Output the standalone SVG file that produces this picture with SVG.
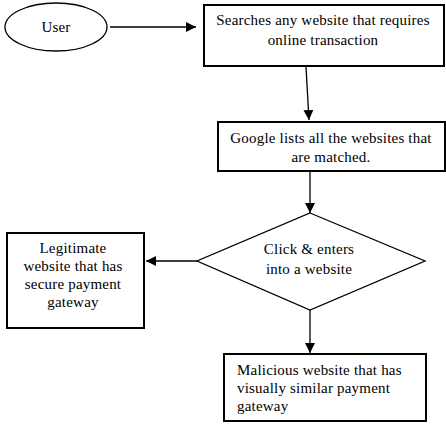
<svg xmlns="http://www.w3.org/2000/svg" width="446" height="426" viewBox="0 0 446 426">
<style>
.n{fill:#fff;stroke:#000;stroke-width:2}
.d{fill:#fff;stroke:#000;stroke-width:1.3}
text{font-family:'Liberation Serif','Times New Roman','DejaVu Serif',serif;font-size:15px;letter-spacing:0.2px;fill:#000}
.c{stroke:#000;stroke-width:1.3;fill:none}
</style>
<defs>
<marker id="a" viewBox="0 0 10 10" refX="10" refY="5" markerWidth="10" markerHeight="10" markerUnits="userSpaceOnUse" orient="auto">
<path d="M0,0L10,5L0,10z" fill="#000"/>
</marker>
</defs>
<rect width="446" height="426" fill="#fff"/>
<g id="connectors">
<line class="c" x1="110" y1="27" x2="196" y2="27" marker-end="url(#a)"/>
<line class="c" x1="306" y1="67" x2="309" y2="120" marker-end="url(#a)"/>
<line class="c" x1="310" y1="171" x2="310" y2="213" marker-end="url(#a)"/>
<line class="c" x1="197" y1="261" x2="146" y2="261" marker-end="url(#a)"/>
<line class="c" x1="310" y1="310" x2="310" y2="353" marker-end="url(#a)"/>
</g>
<g id="user">
<ellipse class="d" cx="56" cy="27" rx="51" ry="24"/>
<text x="56" y="32" text-anchor="middle">User</text>
</g>
<g id="search">
<rect class="n" x="204" y="5" width="240" height="61"/>
<text x="323" y="25" text-anchor="middle">Searches any website that requires</text>
<text x="323" y="45" text-anchor="middle">online transaction</text>
</g>
<g id="google">
<rect class="n" x="218" y="122" width="227" height="49"/>
<text x="331" y="143" text-anchor="middle">Google lists all the websites that</text>
<text x="331" y="162" text-anchor="middle">are matched.</text>
</g>
<g id="decision">
<polygon class="d" points="310,213 425,261 310,310 197,261"/>
<text x="309" y="254" text-anchor="middle">Click &amp; enters</text>
<text x="309" y="274" text-anchor="middle">into a website</text>
</g>
<g id="legit">
<rect class="n" x="7" y="233" width="137" height="95"/>
<text x="73" y="253" text-anchor="middle">Legitimate</text>
<text x="73" y="271" text-anchor="middle">website that has</text>
<text x="73" y="289" text-anchor="middle">secure payment</text>
<text x="73" y="307" text-anchor="middle">gateway</text>
</g>
<g id="malicious">
<rect class="n" x="224" y="354" width="202" height="67"/>
<text x="237" y="375">Malicious website that has</text>
<text x="237" y="393">visually similar payment</text>
<text x="237" y="411">gateway</text>
</g>
</svg>
